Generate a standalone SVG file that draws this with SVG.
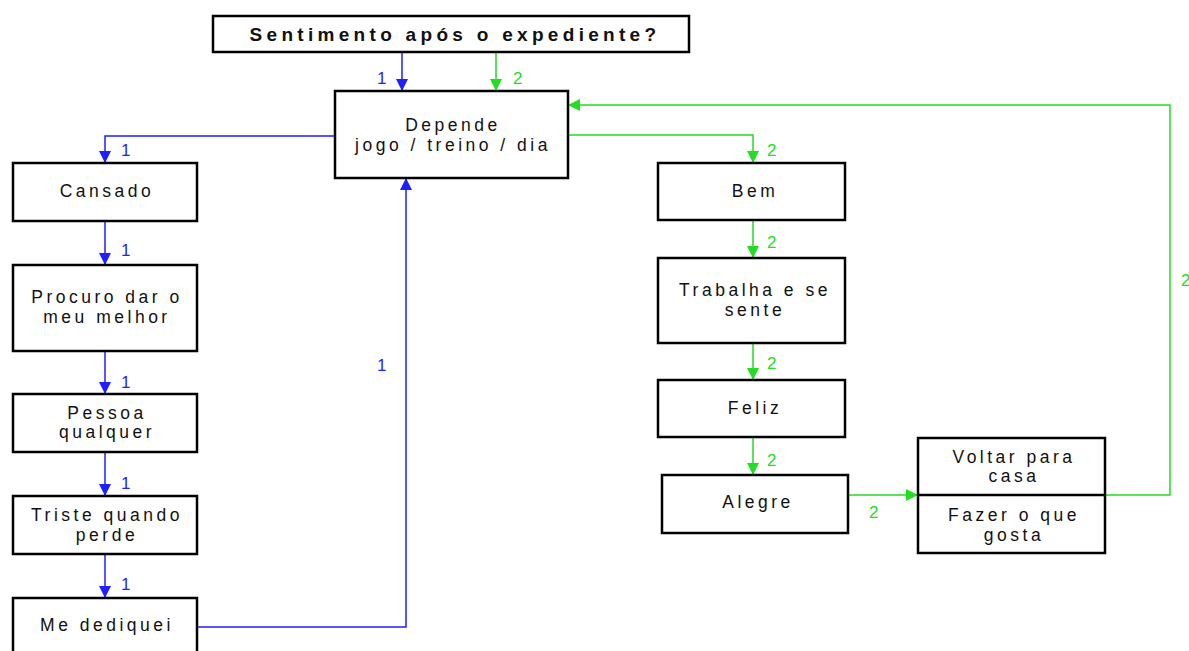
<svg xmlns="http://www.w3.org/2000/svg" width="1189" height="651" viewBox="0 0 1189 651">
  <style>
    .box { fill: #ffffff; stroke: #000000; stroke-width: 2.5; }
    .txt { font-family: "Liberation Sans", Arial, sans-serif; font-size: 17.5px; letter-spacing: 3.5px; fill: #111111; text-anchor: middle; }
    .title { font-family: "Liberation Sans", Arial, sans-serif; font-size: 19px; font-weight: bold; letter-spacing: 4.3px; fill: #111111; text-anchor: middle; }
    .blue { fill: none; stroke: #1f1fff; stroke-width: 1.5; }
    .green { fill: none; stroke: #22dd22; stroke-width: 1.5; }
    .lb { font-family: "Liberation Sans", Arial, sans-serif; font-size: 17px; fill: #1f1fff; }
    .lg { font-family: "Liberation Sans", Arial, sans-serif; font-size: 17px; fill: #22dd22; }
  </style>
  <defs>
    <marker id="ab" markerWidth="12" markerHeight="12" refX="12" refY="6" orient="auto" markerUnits="userSpaceOnUse">
      <path d="M0,0 L12,6 L0,12 Z" fill="#1f1fff"/>
    </marker>
    <marker id="ag" markerWidth="12" markerHeight="12" refX="12" refY="6" orient="auto" markerUnits="userSpaceOnUse">
      <path d="M0,0 L12,6 L0,12 Z" fill="#22dd22"/>
    </marker>
  </defs>
  <rect width="1189" height="651" fill="#ffffff"/>

  <!-- connectors -->
  <g id="connectors">
    <!-- path 1 (blue) -->
    <path class="blue" d="M402,52 V91" marker-end="url(#ab)"/>
    <path class="blue" d="M335,136 H105 V163" marker-end="url(#ab)"/>
    <path class="blue" d="M105,221 V265" marker-end="url(#ab)"/>
    <path class="blue" d="M105,351 V394" marker-end="url(#ab)"/>
    <path class="blue" d="M105,452 V496" marker-end="url(#ab)"/>
    <path class="blue" d="M105,554 V598" marker-end="url(#ab)"/>
    <path class="blue" d="M197,627 H406 V178" marker-end="url(#ab)"/>
    <!-- path 2 (green) -->
    <path class="green" d="M496,52 V91" marker-end="url(#ag)"/>
    <path class="green" d="M568,135 H753 V163" marker-end="url(#ag)"/>
    <path class="green" d="M753,220 V258" marker-end="url(#ag)"/>
    <path class="green" d="M753,343 V380" marker-end="url(#ag)"/>
    <path class="green" d="M753,437 V475" marker-end="url(#ag)"/>
    <path class="green" d="M848,495 H918" marker-end="url(#ag)"/>
    <path class="green" d="M1105,495 H1170 V105 H568" marker-end="url(#ag)"/>

    <text class="lb" x="377" y="84">1</text>
    <text class="lg" x="513" y="84">2</text>
    <text class="lb" x="121" y="156">1</text>
    <text class="lb" x="121" y="256">1</text>
    <text class="lb" x="121" y="388">1</text>
    <text class="lb" x="121" y="489">1</text>
    <text class="lb" x="121" y="590">1</text>
    <text class="lb" x="377" y="371">1</text>
    <text class="lg" x="767" y="156">2</text>
    <text class="lg" x="767" y="248">2</text>
    <text class="lg" x="767" y="369">2</text>
    <text class="lg" x="767" y="466">2</text>
    <text class="lg" x="869" y="518">2</text>
    <text class="lg" x="1181" y="286">2</text>
  </g>

  <g id="n-title">
    <rect class="box" x="213" y="16" width="476" height="36"/>
    <text class="title" x="455" y="41">Sentimento após o expediente?</text>
  </g>
  <g id="n-depende">
    <rect class="box" x="335" y="91" width="233" height="87"/>
    <text class="txt" x="453" y="131">Depende</text>
    <text class="txt" x="453" y="151">jogo / treino / dia</text>
  </g>

  <g id="n-cansado">
    <rect class="box" x="13" y="163" width="184" height="58"/>
    <text class="txt" x="107" y="197">Cansado</text>
  </g>
  <g id="n-procuro">
    <rect class="box" x="13" y="265" width="184" height="86"/>
    <text class="txt" x="107" y="303">Procuro dar o</text>
    <text class="txt" x="107" y="323">meu melhor</text>
  </g>
  <g id="n-pessoa">
    <rect class="box" x="13" y="394" width="184" height="58"/>
    <text class="txt" x="107" y="419">Pessoa</text>
    <text class="txt" x="107" y="438">qualquer</text>
  </g>
  <g id="n-triste">
    <rect class="box" x="13" y="496" width="184" height="58"/>
    <text class="txt" x="107" y="521">Triste quando</text>
    <text class="txt" x="107" y="541">perde</text>
  </g>
  <g id="n-dediquei">
    <rect class="box" x="13" y="598" width="184" height="70"/>
    <text class="txt" x="107" y="631">Me dediquei</text>
  </g>

  <g id="n-bem">
    <rect class="box" x="658" y="163" width="187" height="57"/>
    <text class="txt" x="755" y="197">Bem</text>
  </g>
  <g id="n-trabalha">
    <rect class="box" x="658" y="258" width="187" height="85"/>
    <text class="txt" x="755" y="296">Trabalha e se</text>
    <text class="txt" x="755" y="316">sente</text>
  </g>
  <g id="n-feliz">
    <rect class="box" x="658" y="380" width="187" height="57"/>
    <text class="txt" x="755" y="414">Feliz</text>
  </g>
  <g id="n-alegre">
    <rect class="box" x="662" y="475" width="186" height="58"/>
    <text class="txt" x="758" y="508">Alegre</text>
  </g>
  <g id="n-voltar">
    <rect class="box" x="918" y="438" width="187" height="115"/>
    <line x1="918" y1="495" x2="1105" y2="495" stroke="#000000" stroke-width="2.5"/>
    <text class="txt" x="1014" y="463">Voltar para</text>
    <text class="txt" x="1014" y="482">casa</text>
    <text class="txt" x="1014" y="521">Fazer o que</text>
    <text class="txt" x="1014" y="541">gosta</text>
  </g>
</svg>
